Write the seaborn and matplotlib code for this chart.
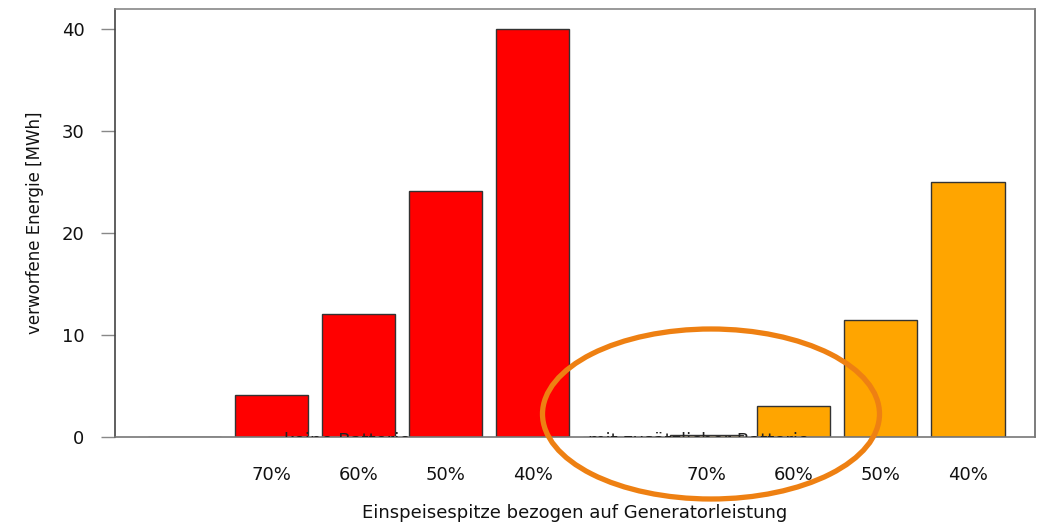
import pandas as pd, numpy as np
from matplotlib import pyplot as plt
from matplotlib.patches import Ellipse
import seaborn as sns

# data
gruppen = ["keine Batterie", "mit zusätzlicher Batterie"]
spitzen = ["", "70%", "60%", "50%", "40%"]
ohne_batterie = [0.0, 4.1, 12.1, 24.1, 40.0]
mit_batterie = [0.0, 0.2, 3.0, 11.5, 25.0]
farben = ["#FF0000"] * 5 + ["#FFA500"] * 5

df = pd.DataFrame({
    "slot": [str(i) for i in range(10)],
    "wert": ohne_batterie + mit_batterie,
})

sns.set_theme(style="white")
plt.rcParams['font.family'] = ['DejaVu Sans']

fig = plt.figure(figsize=(10.38, 5.22), dpi=100)
ax = fig.add_axes([115/1038, 1-437/522, (1035-115)/1038, (437-9)/522])

sns.barplot(data=df, x="slot", y="wert", hue="slot", palette=farben, legend=False,
            saturation=1, width=0.84, edgecolor="#333333", linewidth=1.0, ax=ax, zorder=2)

ax.set_xlim(-0.80, 9.77)
ax.set_ylim(0, 42)
ax.set_yticks([0, 10, 20, 30, 40])
ax.set_xticks(range(10))
ax.set_xticklabels(spitzen + spitzen, fontsize=13, color="#111111")
ax.tick_params(axis="x", length=0, pad=21)
ax.tick_params(axis="y", left=True, length=10, width=1, color="#888888",
               labelsize=13, labelcolor="#111111", pad=12)
ax.set_xlabel("Einspeisespitze bezogen auf Generatorleistung", fontsize=13,
              color="#111111", labelpad=14)
ax.set_ylabel("verworfene Energie [MWh]", fontsize=12, color="#111111", labelpad=13)

for s in ["left", "top", "right", "bottom"]:
    ax.spines[s].set_visible(True)
    ax.spines[s].set_linewidth(1.2)
ax.spines["left"].set_color("#444444")
ax.spines["top"].set_color("#888888")
ax.spines["right"].set_color("#666666")
ax.spines["bottom"].set_color("#777777")

# group labels sitting mostly outside the plot area (clipped as in the original)
ax.text(1.87, 0.45, gruppen[0], ha="center", va="top", fontsize=13,
        color="#222222", clip_on=True, zorder=3)
ax.text(5.91, 0.45, gruppen[1], ha="center", va="top", fontsize=13,
        color="#222222", clip_on=True, zorder=3)

# hand-drawn highlight ellipse
ell = Ellipse((711/1038, 1-414/522), 337/1038, 170/522, transform=fig.transFigure,
              fill=False, edgecolor="#EE8012", linewidth=3.8, clip_on=False, zorder=5)
fig.patches.append(ell)

fig.savefig("out.png", dpi=100)
